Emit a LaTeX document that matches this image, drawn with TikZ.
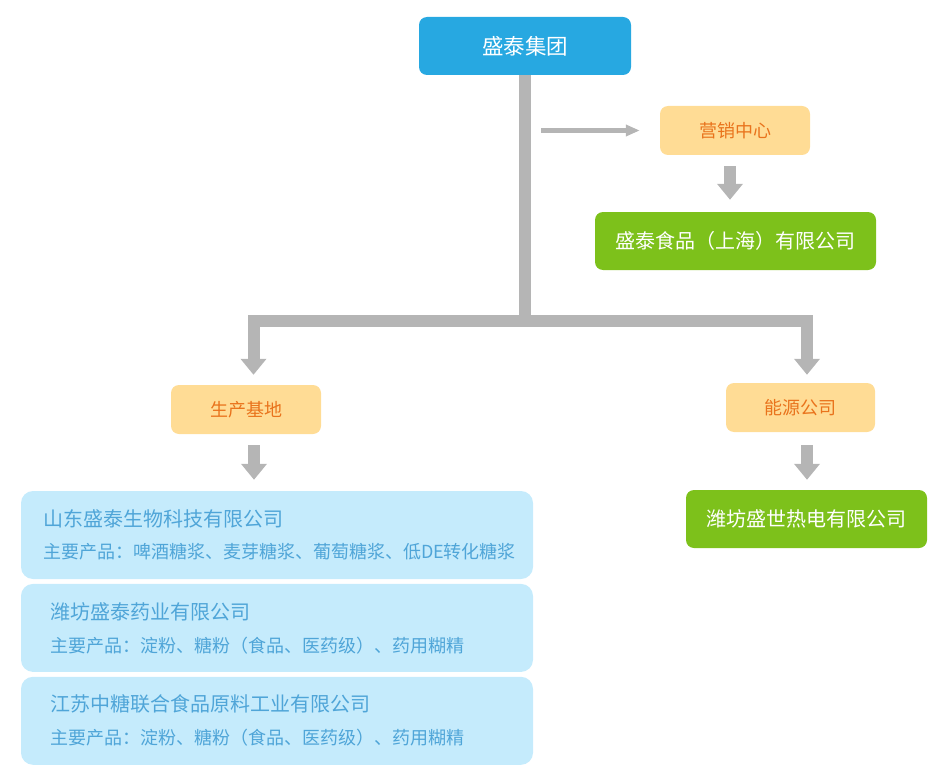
\documentclass[tikz,border=0pt]{standalone}
\usepackage{fontspec}
\setmainfont{Noto Sans CJK SC}
\usetikzlibrary{arrows.meta,positioning,calc}

\definecolor{topblue}{HTML}{27A8E1}
\definecolor{orangefill}{HTML}{FFDC95}
\definecolor{orangetext}{HTML}{E9731C}
\definecolor{leafgreen}{HTML}{7DC11B}
\definecolor{paleblue}{HTML}{C5EBFC}
\definecolor{paletext}{HTML}{4FA5D8}
\definecolor{arrowgray}{HTML}{B5B5B5}

\begin{document}
\begin{tikzpicture}[x=1pt,y=-1pt]
        \tikzstyle{every node}=[inner sep=0pt]
        \tikzstyle{topbox}=[rectangle,rounded corners=8pt,fill=topblue,text=white,minimum width=212pt,minimum height=58pt,font=\fontsize{21.5}{24}\selectfont]
        \tikzstyle{orangebox}=[rectangle,rounded corners=8pt,fill=orangefill,text=orangetext,minimum width=150pt,minimum height=49pt,font=\fontsize{18}{20}\selectfont]
        \tikzstyle{greenbox}=[rectangle,rounded corners=8pt,fill=leafgreen,text=white,minimum height=58pt,font=\fontsize{20}{22}\selectfont]
        \tikzstyle{bluebox}=[rectangle,rounded corners=12pt,fill=paleblue,minimum width=512pt,minimum height=88pt]
        \tikzstyle{titletext}=[anchor=west,text=paletext,font=\fontsize{20}{22}\selectfont]
        \tikzstyle{itemtext}=[anchor=west,text=paletext,font=\fontsize{18}{20}\selectfont]
        \tikzstyle{blockarr}=[draw=arrowgray,line width=12.5pt,-{Triangle[width=25pt,length=16pt]}]
        \tikzstyle{thinarr}=[draw=arrowgray,line width=4.5pt,-{Triangle[width=11pt,length=14pt]}]

        \useasboundingbox (0,0) rectangle (948,781);

        %%% Top
        \node[topbox] (group) at (525,46) {盛泰集团};
        \node[orangebox] (mkt) at (735,130.5) {营销中心};
        \node[greenbox,minimum width=281pt] (shfood) at (735.5,241) {盛泰食品（上海）有限公司};

        %%% Middle
        \node[orangebox] (prod) at (246,409.5) {生产基地};
        \node[orangebox,minimum width=149pt] (energy) at (800.5,407.5) {能源公司};
        \node[greenbox,minimum width=241pt] (wfpower) at (806.5,519) {潍坊盛世热电有限公司};

        %%% Bottom
        \node[bluebox] (sdbio) at (277,535) {};
        \node[bluebox,below=4.5pt of sdbio] (wfpharma) {};
        \node[bluebox,below=4.5pt of wfpharma] (jszt) {};

        \node[titletext] (sdname) at ($(sdbio.west)+(22,-16)$) {山东盛泰生物科技有限公司};
        \node[itemtext] (sditems) at ($(sdbio.west)+(22,17)$) {主要产品：啤酒糖浆、麦芽糖浆、葡萄糖浆、低DE转化糖浆};
        \node[titletext] (wfname) at ($(wfpharma.west)+(29,-16)$) {潍坊盛泰药业有限公司};
        \node[itemtext] (wfitems) at ($(wfpharma.west)+(29,18)$) {主要产品：淀粉、糖粉（食品、医药级）、药用糊精};
        \node[titletext] (jsname) at ($(jszt.west)+(29,-17)$) {江苏中糖联合食品原料工业有限公司};
        \node[itemtext] (jsitems) at ($(jszt.west)+(29,17)$) {主要产品：淀粉、糖粉（食品、医药级）、药用糊精};

        %%% Connectors
        \coordinate (jn) at (525,320.5);
        \coordinate (mktarr) at ($(mkt.south)+(-5,0)$);
        \coordinate (prodarr) at ($(prod.south)+(8,0)$);
        \coordinate (energyarr) at ($(energy.south)+(6.5,0)$);

        \draw[draw=arrowgray,line width=12pt] (group.south) -- (jn);
        \draw[thinarr] ($(jn |- mkt.west)+(16,0)$) -- ($(mkt.west)+(-20,0)$);
        \draw[blockarr,line width=12pt] (jn) -| ($(prod.north)+(7.5,-10)$);
        \draw[blockarr,line width=12pt] (jn) -| ($(energy.north)+(6.5,-8)$);
        \draw[blockarr,shorten <=11pt,shorten >=12pt] (mktarr) -- (mktarr |- shfood.north);
        \draw[blockarr,shorten <=11pt,shorten >=11pt] (prodarr) -- (prodarr |- sdbio.north);
        \draw[blockarr,shorten <=13pt,shorten >=10pt] (energyarr) -- (energyarr |- wfpower.north);
\end{tikzpicture}
\end{document}
